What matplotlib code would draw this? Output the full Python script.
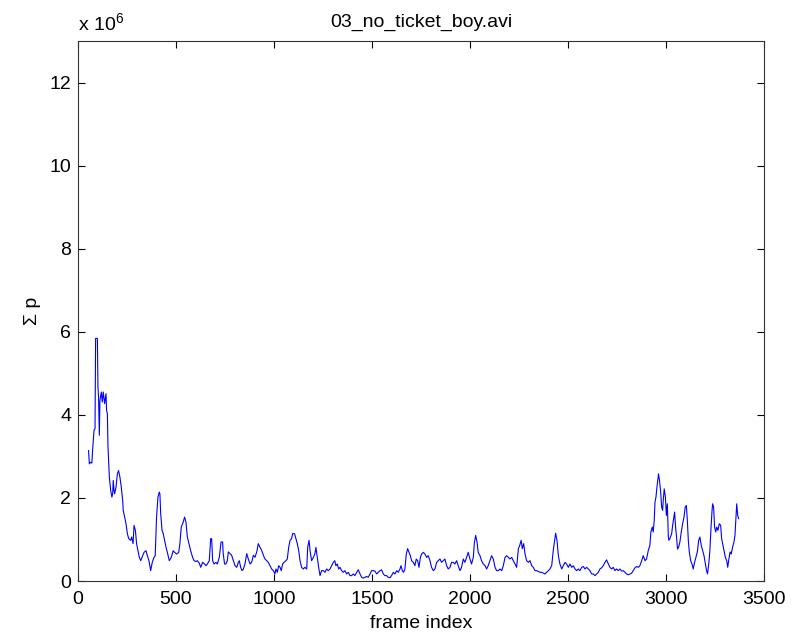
import numpy as np
import matplotlib.pyplot as plt
from matplotlib.ticker import FuncFormatter, MultipleLocator

plt.rcParams['font.family'] = ['Liberation Sans', 'DejaVu Sans']
plt.rcParams['mathtext.fontset'] = 'custom'
plt.rcParams['mathtext.rm'] = 'Liberation Sans'
plt.rcParams['mathtext.it'] = 'Liberation Sans:italic'

# Values (frame index, sum of p in units of 1e6)
frames = [
    54, 58, 65, 71, 75, 82, 87, 90, 99, 102, 105, 109, 112, 119, 124, 129, 136, 143, 146, 150,
    153, 160, 167, 173, 177, 180, 184, 187, 194, 201, 207, 214, 221, 228, 231, 238, 245, 252, 259, 269,
    274, 281, 286, 293, 299, 306, 313, 320, 327, 337, 347, 354, 362, 371, 379, 388, 394, 401, 408, 415,
    418, 422, 429, 435, 442, 449, 456, 466, 476, 486, 493, 503, 514, 520, 527, 537, 544, 551, 558, 566,
    575, 585, 592, 602, 609, 619, 626, 636, 646, 653, 660, 670, 677, 682, 687, 694, 704, 711, 721, 730,
    738, 741, 748, 755, 762, 767, 776, 784, 793, 801, 810, 818, 823, 830, 837, 844, 852, 861, 869, 878,
    886, 895, 903, 912, 920, 929, 937, 946, 954, 963, 971, 980, 988, 997, 1005, 1010, 1017, 1024, 1031, 1037,
    1044, 1051, 1061, 1068, 1075, 1082, 1090, 1095, 1105, 1112, 1119, 1126, 1133, 1141, 1150, 1158, 1167, 1172, 1179, 1184,
    1192, 1201, 1209, 1214, 1221, 1228, 1235, 1243, 1252, 1260, 1269, 1277, 1286, 1294, 1303, 1310, 1316, 1323, 1330, 1337,
    1345, 1354, 1362, 1371, 1379, 1388, 1396, 1405, 1413, 1422, 1430, 1439, 1447, 1456, 1464, 1473, 1481, 1490, 1498, 1507,
    1515, 1524, 1532, 1541, 1549, 1558, 1566, 1575, 1583, 1592, 1600, 1609, 1617, 1626, 1634, 1643, 1648, 1655, 1661, 1668,
    1675, 1682, 1689, 1696, 1702, 1711, 1719, 1726, 1733, 1740, 1747, 1753, 1762, 1770, 1779, 1787, 1796, 1804, 1813, 1821,
    1830, 1838, 1847, 1855, 1864, 1872, 1881, 1889, 1898, 1906, 1915, 1923, 1932, 1940, 1949, 1957, 1966, 1974, 1983, 1991,
    2000, 2008, 2017, 2022, 2029, 2036, 2042, 2051, 2059, 2068, 2077, 2085, 2093, 2102, 2110, 2119, 2128, 2136, 2145, 2153,
    2162, 2170, 2179, 2187, 2196, 2204, 2213, 2221, 2230, 2238, 2247, 2254, 2261, 2267, 2274, 2281, 2289, 2298, 2306, 2315,
    2323, 2332, 2340, 2349, 2357, 2366, 2374, 2383, 2391, 2400, 2408, 2417, 2425, 2434, 2437, 2444, 2451, 2459, 2468, 2476,
    2485, 2493, 2502, 2510, 2519, 2527, 2536, 2544, 2553, 2561, 2570, 2578, 2587, 2595, 2604, 2612, 2621, 2629, 2638, 2646,
    2655, 2663, 2672, 2680, 2689, 2697, 2706, 2714, 2723, 2731, 2740, 2748, 2757, 2765, 2774, 2782, 2791, 2799, 2808, 2816,
    2825, 2833, 2842, 2850, 2859, 2867, 2876, 2884, 2893, 2901, 2910, 2918, 2923, 2930, 2935, 2940, 2944, 2949, 2954, 2959,
    2962, 2967, 2973, 2978, 2983, 2986, 2991, 2997, 3002, 3007, 3012, 3015, 3020, 3029, 3034, 3039, 3044, 3049, 3054, 3059,
    3065, 3071, 3078, 3085, 3092, 3098, 3104, 3109, 3114, 3119, 3126, 3133, 3139, 3146, 3153, 3160, 3167, 3173, 3180, 3187,
    3194, 3201, 3207, 3212, 3219, 3224, 3230, 3235, 3238, 3243, 3248, 3254, 3259, 3265, 3272, 3279, 3284, 3289, 3296, 3303,
    3310, 3315, 3321, 3327, 3333, 3340, 3347, 3352, 3357, 3361, 3366, 3371,
]
sum_p = [
    3.14, 2.82, 2.86, 2.84, 3.18, 3.63, 3.67, 5.84, 5.84, 4.67, 4.43, 3.51, 4.35, 4.55, 4.31, 4.55, 4.27, 4.51, 4.11, 4.03,
    3.26, 2.50, 2.18, 2.02, 2.10, 2.42, 2.18, 2.10, 2.26, 2.58, 2.66, 2.50, 2.26, 1.94, 1.70, 1.54, 1.38, 1.14, 1.02, 0.98,
    1.06, 0.90, 1.34, 1.22, 0.90, 0.73, 0.57, 0.49, 0.57, 0.69, 0.73, 0.61, 0.49, 0.25, 0.45, 0.57, 0.61, 1.54, 2.02, 2.14,
    2.10, 1.62, 1.22, 1.14, 0.98, 0.82, 0.69, 0.49, 0.57, 0.73, 0.69, 0.65, 0.69, 0.90, 1.30, 1.42, 1.54, 1.42, 1.06, 0.90,
    0.73, 0.57, 0.49, 0.47, 0.49, 0.43, 0.33, 0.45, 0.41, 0.37, 0.41, 0.49, 1.02, 1.02, 0.49, 0.41, 0.45, 0.41, 0.57, 0.94,
    0.94, 0.66, 0.41, 0.41, 0.49, 0.70, 0.66, 0.62, 0.49, 0.37, 0.33, 0.45, 0.49, 0.33, 0.25, 0.29, 0.41, 0.66, 0.53, 0.41,
    0.45, 0.62, 0.57, 0.70, 0.90, 0.81, 0.74, 0.62, 0.53, 0.49, 0.45, 0.37, 0.29, 0.25, 0.17, 0.29, 0.21, 0.37, 0.33, 0.25,
    0.41, 0.45, 0.49, 0.53, 0.81, 0.98, 1.02, 1.14, 1.14, 1.02, 0.90, 0.74, 0.49, 0.33, 0.29, 0.33, 0.29, 0.81, 0.98, 0.74,
    0.49, 0.57, 0.66, 0.81, 0.57, 0.33, 0.13, 0.25, 0.25, 0.21, 0.29, 0.25, 0.29, 0.37, 0.45, 0.49, 0.37, 0.41, 0.29, 0.33,
    0.25, 0.21, 0.25, 0.17, 0.21, 0.13, 0.13, 0.17, 0.13, 0.21, 0.27, 0.17, 0.09, 0.07, 0.09, 0.11, 0.09, 0.17, 0.25, 0.25,
    0.24, 0.17, 0.21, 0.25, 0.27, 0.17, 0.13, 0.13, 0.09, 0.08, 0.13, 0.21, 0.17, 0.25, 0.21, 0.29, 0.37, 0.25, 0.21, 0.29,
    0.65, 0.78, 0.69, 0.61, 0.49, 0.45, 0.37, 0.53, 0.49, 0.33, 0.57, 0.65, 0.69, 0.65, 0.57, 0.61, 0.49, 0.33, 0.25, 0.29,
    0.45, 0.49, 0.53, 0.45, 0.49, 0.53, 0.37, 0.29, 0.33, 0.45, 0.45, 0.41, 0.49, 0.37, 0.25, 0.33, 0.53, 0.45, 0.57, 0.69,
    0.53, 0.41, 0.57, 0.90, 1.10, 0.94, 0.69, 0.61, 0.49, 0.41, 0.37, 0.29, 0.37, 0.49, 0.61, 0.53, 0.33, 0.25, 0.25, 0.29,
    0.25, 0.37, 0.57, 0.61, 0.57, 0.53, 0.57, 0.49, 0.41, 0.33, 0.78, 0.86, 0.98, 0.78, 0.90, 0.65, 0.49, 0.45, 0.49, 0.37,
    0.33, 0.25, 0.25, 0.23, 0.21, 0.21, 0.19, 0.17, 0.21, 0.25, 0.29, 0.37, 0.74, 1.06, 1.15, 0.98, 0.61, 0.41, 0.29, 0.37,
    0.45, 0.41, 0.33, 0.41, 0.33, 0.37, 0.29, 0.25, 0.29, 0.25, 0.33, 0.35, 0.29, 0.33, 0.29, 0.25, 0.17, 0.17, 0.13, 0.17,
    0.21, 0.29, 0.32, 0.37, 0.45, 0.51, 0.41, 0.33, 0.29, 0.33, 0.25, 0.29, 0.25, 0.29, 0.24, 0.25, 0.21, 0.17, 0.15, 0.17,
    0.19, 0.25, 0.32, 0.35, 0.33, 0.37, 0.49, 0.61, 0.49, 0.53, 0.74, 0.86, 1.18, 1.30, 1.18, 1.46, 1.90, 2.02, 2.26, 2.46,
    2.58, 2.42, 2.14, 1.78, 1.70, 1.94, 2.22, 2.02, 1.58, 1.86, 1.06, 0.98, 1.02, 1.14, 1.34, 1.50, 1.66, 1.30, 1.06, 0.77,
    0.82, 0.94, 1.18, 1.38, 1.54, 1.78, 1.82, 1.46, 0.98, 0.70, 0.49, 0.41, 0.29, 0.45, 0.57, 0.70, 0.98, 1.06, 0.86, 0.74,
    0.61, 0.41, 0.25, 0.17, 0.45, 0.74, 1.30, 1.70, 1.86, 1.78, 1.30, 1.18, 1.30, 1.22, 1.38, 1.34, 1.02, 0.90, 0.74, 0.57,
    0.49, 0.33, 0.53, 0.70, 0.65, 0.82, 0.94, 1.10, 1.54, 1.86, 1.58, 1.50,
]
title = "03_no_ticket_boy.avi"
x_label = "frame index"
y_label = "\u03a3 p"

frames = np.array(frames)
sum_p = np.array(sum_p) * 1e6

fig = plt.figure(figsize=(8.03, 6.33), dpi=100)
ax = fig.add_axes([0.0971, 0.0821, 0.8543, 0.8531])

ax.plot(frames, sum_p, color="#0000ff", lw=0.8)

ax.set_xlim(0, 3500)
ax.set_ylim(0, 13e6)
ax.xaxis.set_major_locator(MultipleLocator(500))
ax.yaxis.set_major_locator(MultipleLocator(2e6))
ax.yaxis.set_major_formatter(FuncFormatter(lambda v, _: f"{v / 1e6:g}"))

ax.tick_params(axis='both', direction='in', length=5, width=0.8, labelsize=14,
               top=True, right=True)
ax.tick_params(axis='x', pad=7.5)
ax.tick_params(axis='y', pad=5)
for spine in ax.spines.values():
    spine.set_linewidth(0.8)
    spine.set_color("#333333")

ax.set_title(title, fontsize=14, pad=10)
ax.set_xlabel(x_label, fontsize=14, labelpad=5)
ax.set_ylabel(y_label, fontsize=14, labelpad=6)
ax.text(0, 1.012, r"x 10$^{6}$", transform=ax.transAxes, fontsize=14,
        ha='left', va='bottom')

fig.savefig("out.png", dpi=100)
